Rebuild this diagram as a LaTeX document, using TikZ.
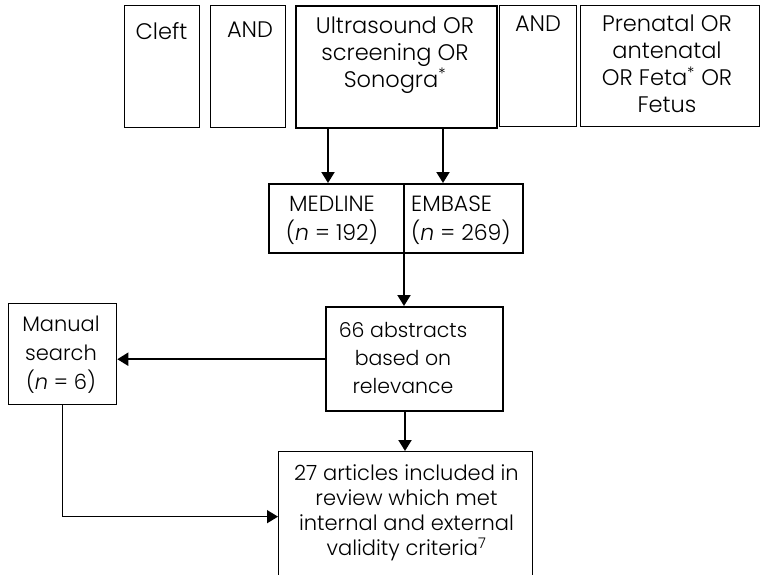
\documentclass[tikz,border=0pt]{standalone}
\usepackage{fontspec}
\setmainfont{Poppins}[UprightFont=* Light,ItalicFont=* Light Italic]
\usetikzlibrary{arrows.meta,calc}
\begin{document}
\begin{tikzpicture}[x=1pt,y=-1pt,
  thinbox/.style={draw,line width=1.3pt,inner sep=0pt,anchor=north west},
  thickbox/.style={draw,line width=2.4pt,inner sep=0pt,anchor=north west},
  txt/.style={align=center,inner sep=0pt,font=\fontsize{22.5}{27}\selectfont},
  arr/.style={line width=2pt,-{Triangle[width=13pt,length=11pt]}},
  link/.style={line width=1.4pt,-{Triangle[width=13pt,length=11pt]}},
]
\useasboundingbox (0,0) rectangle (760,574);

% search terms
\node[thinbox,minimum width=75pt,minimum height=122pt] (cleft) at (124,5) {};
\node[thinbox,minimum width=75pt,minimum height=122pt] (and1) at (210,5) {};
\node[thickbox,minimum width=201pt,minimum height=122pt] (ultra) at (295,5) {};
\node[thinbox,minimum width=77pt,minimum height=121pt] (and2) at (499,5) {};
\node[thinbox,minimum width=179pt,minimum height=121pt] (pre) at (580,5) {};

\node[txt] (tcleft) at (161.5,31.5) {Cleft};
\node[txt] (tand1) at (250,30) {AND};
\node[txt] (tultra) at (395,55) {Ultrasound OR\\screening OR\\Sonogra\textsuperscript{*}};
\node[txt] (tand2) at (538,24) {AND};
\node[txt] (tpre) at (667,64) {Prenatal OR\\antenatal\\OR Feta\textsuperscript{*} OR\\Fetus};

% databases
\node[thickbox,minimum width=254pt,minimum height=69pt] (db) at (268,183) {};
\coordinate (split) at (404,183);
\draw[line width=1.4pt] (split) -- (split |- db.south);
\node[txt,font=\fontsize{22}{29}\selectfont] (tmed) at (332,220) {MEDLINE\\(\textit{n} = 192)};
\node[txt,font=\fontsize{22}{29}\selectfont,align=left,anchor=west] (temb) at (411,220) {EMBASE\\(\textit{n} = 269)};

% screening
\node[thickbox,minimum width=177pt,minimum height=104pt] (abs) at (325,306) {};
\node[txt,font=\fontsize{20.5}{28}\selectfont] (tabs) at (403,357.5) {66 abstracts\\based on\\relevance};

\node[thinbox,minimum width=108pt,minimum height=101pt] (man) at (8,303) {};
\node[txt,font=\fontsize{21}{29}\selectfont] (tman) at (61,355) {Manual\\search\\(\textit{n} = 6)};

\node[thinbox,minimum width=254pt,minimum height=130pt] (art) at (278,451) {};
\node[txt,font=\fontsize{21}{25}\selectfont] (tart) at (406.5,513) {27 articles included in\\review which met\\internal and external\\validity criteria\textsuperscript{7}};

% connectors
\draw[arr] ([xshift=33pt]ultra.south west) -- ([xshift=33pt]ultra.south west |- db.north);
\draw[arr] ([xshift=148pt]ultra.south west) -- ([xshift=148pt]ultra.south west |- db.north);
\draw[arr] (split |- db.south) -- (split |- abs.north);
\draw[arr] (abs.west) -- (abs.west -| man.east);
\draw[arr] ([xshift=80pt]abs.south west) -- ([xshift=80pt]abs.south west |- art.north);
\draw[link] (man.south) |- (art.west);
\end{tikzpicture}
\end{document}
